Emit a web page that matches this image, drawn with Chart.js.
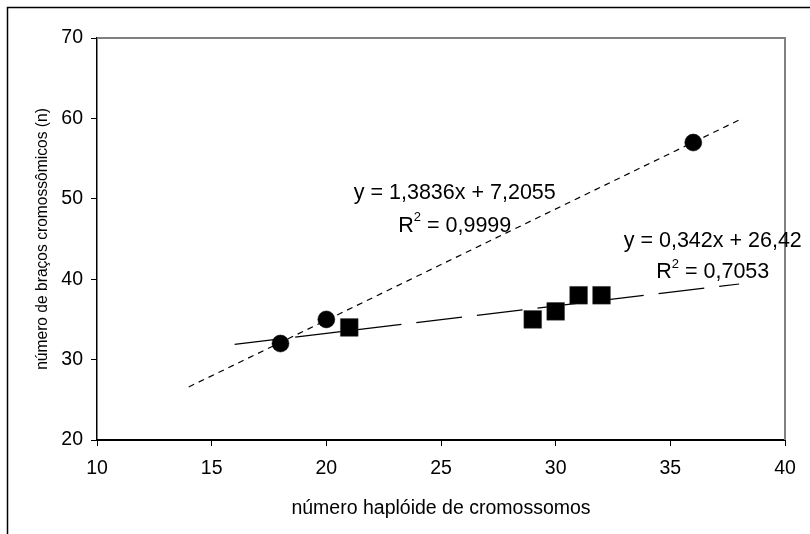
<!DOCTYPE html>
<html lang="pt">
<head>
<meta charset="UTF-8">
<title>braços cromossômicos</title>
<script src="https://cdn.jsdelivr.net/npm/chart.js"></script>
<style>
  html, body { margin: 0; padding: 0; background: #fff; }
  #wrap { position: relative; width: 810px; height: 534px; }
</style>
</head>
<body>
<div id="wrap"><canvas id="chart" width="810" height="534"></canvas></div>
<script>
// data
const circlesX = [18, 20, 36];
const circlesY = [32, 35, 57];
const squaresX = [21, 29, 30, 31, 32];
const squaresY = [34, 35, 36, 38, 38];

// trend lines (end points as drawn)
const trendCircleX = [14, 38];
const trendCircleY = [26.6, 59.8];
const trendSquareX = [16, 38];
const trendSquareY = [31.9, 39.4];

const xTicks = [10, 15, 20, 25, 30, 35, 40];
const yTicks = [20, 30, 40, 50, 60, 70];

const eqCircle = ['y = 1,3836x + 7,2055', '0,9999'];
const eqSquare = ['y = 0,342x + 26,42', '0,7053'];

const FONT = "'Liberation Sans', Arial, sans-serif";
const pts = (xs, ys) => xs.map((x, i) => ({ x, y: ys[i] }));

// frame around the picture + grey top/right of the plot
const framePlugin = {
  id: 'frame',
  beforeDraw(chart) {
    const { ctx } = chart;
    ctx.save();
    ctx.strokeStyle = '#000';
    ctx.lineWidth = 1.5;
    ctx.beginPath();
    ctx.moveTo(7.5, 534);
    ctx.lineTo(7.5, 7.5);
    ctx.lineTo(810, 7.5);
    ctx.stroke();
    ctx.restore();
  },
  afterDatasetsDraw(chart) {
    const { ctx, chartArea: a } = chart;
    ctx.save();
    ctx.strokeStyle = '#808080';
    ctx.lineWidth = 2;
    ctx.beginPath();
    ctx.moveTo(a.left, a.top);
    ctx.lineTo(a.right, a.top);
    ctx.lineTo(a.right, a.bottom);
    ctx.stroke();
    ctx.restore();
  }
};

// regression equations, written the way Excel puts them
function drawEq(ctx, lines, cx, y1, y2) {
  const big = '21.5px ' + FONT, small = '13px ' + FONT;
  ctx.fillStyle = '#000';
  ctx.textBaseline = 'middle';
  ctx.textAlign = 'center';
  ctx.font = big;
  ctx.fillText(lines[0], cx, y1);
  const rest = ' = ' + lines[1];
  const wR = ctx.measureText('R').width, wRest = ctx.measureText(rest).width;
  ctx.font = small;
  const w2 = ctx.measureText('2').width;
  let x = cx - (wR + w2 + wRest) / 2;
  ctx.textAlign = 'left';
  ctx.font = big;
  ctx.fillText('R', x, y2);
  ctx.font = small;
  ctx.fillText('2', x + wR, y2 - 8);
  ctx.font = big;
  ctx.fillText(rest, x + wR + w2, y2);
}

const eqPlugin = {
  id: 'eqs',
  afterDraw(chart) {
    const { ctx, scales: { x, y } } = chart;
    ctx.save();
    drawEq(ctx, eqCircle, x.getPixelForValue(25.6), y.getPixelForValue(50.7), y.getPixelForValue(46.65));
    drawEq(ctx, eqSquare, x.getPixelForValue(36.85), y.getPixelForValue(44.7), y.getPixelForValue(40.85));
    ctx.restore();
  }
};

new Chart(document.getElementById('chart'), {
  type: 'scatter',
  data: {
    datasets: [
      {
        data: pts(trendCircleX, trendCircleY),
        showLine: true, pointRadius: 0,
        borderColor: '#000', borderWidth: 1.2, borderDash: [6, 5],
        order: 3
      },
      {
        data: pts(trendSquareX, trendSquareY),
        showLine: true, pointRadius: 0,
        borderColor: '#000', borderWidth: 1.2, borderDash: [46, 15],
        order: 3
      },
      {
        data: pts(circlesX, circlesY),
        pointStyle: 'circle', pointRadius: 8.5,
        backgroundColor: '#000', borderColor: '#000', borderWidth: 0.5,
        order: 1
      },
      {
        data: pts(squaresX, squaresY),
        pointStyle: 'rect', pointRadius: 12.5,
        backgroundColor: '#000', borderColor: '#333', borderWidth: 0.5,
        order: 1
      }
    ]
  },
  options: {
    responsive: false,
    animation: false,
    layout: { padding: { top: 38, right: 25, left: 0, bottom: 0 } },
    plugins: { legend: { display: false }, tooltip: { enabled: false } },
    scales: {
      x: {
        type: 'linear', min: 10, max: 40,
        afterFit(s) { s.height = 94; },
        afterBuildTicks(s) { s.ticks = xTicks.map(v => ({ value: v })); },
        border: { color: '#000', width: 2 },
        grid: { drawOnChartArea: false, drawTicks: true, tickLength: 6, color: '#000' },
        ticks: { color: '#000', padding: 11, maxRotation: 0, font: { family: FONT, size: 19.5 } },
        title: {
          display: true, text: 'número haplóide de cromossomos', color: '#000',
          font: { family: FONT, size: 19.5 }, padding: { top: 0, bottom: 14 }
        }
      },
      y: {
        type: 'linear', min: 20, max: 70,
        afterFit(s) { s.width = 97; },
        afterBuildTicks(s) { s.ticks = yTicks.map(v => ({ value: v })); },
        border: { color: '#000', width: 1.5 },
        grid: { drawOnChartArea: false, drawTicks: true, tickLength: 6, color: '#000' },
        ticks: { color: '#000', padding: 8, font: { family: FONT, size: 19.5 } },
        title: {
          display: true, text: 'número de braços cromossômicos (n)', color: '#000',
          font: { family: FONT, size: 15.6 }, padding: { top: 33, bottom: 0 }
        }
      }
    }
  },
  plugins: [framePlugin, eqPlugin]
});
</script>
</body>
</html>
